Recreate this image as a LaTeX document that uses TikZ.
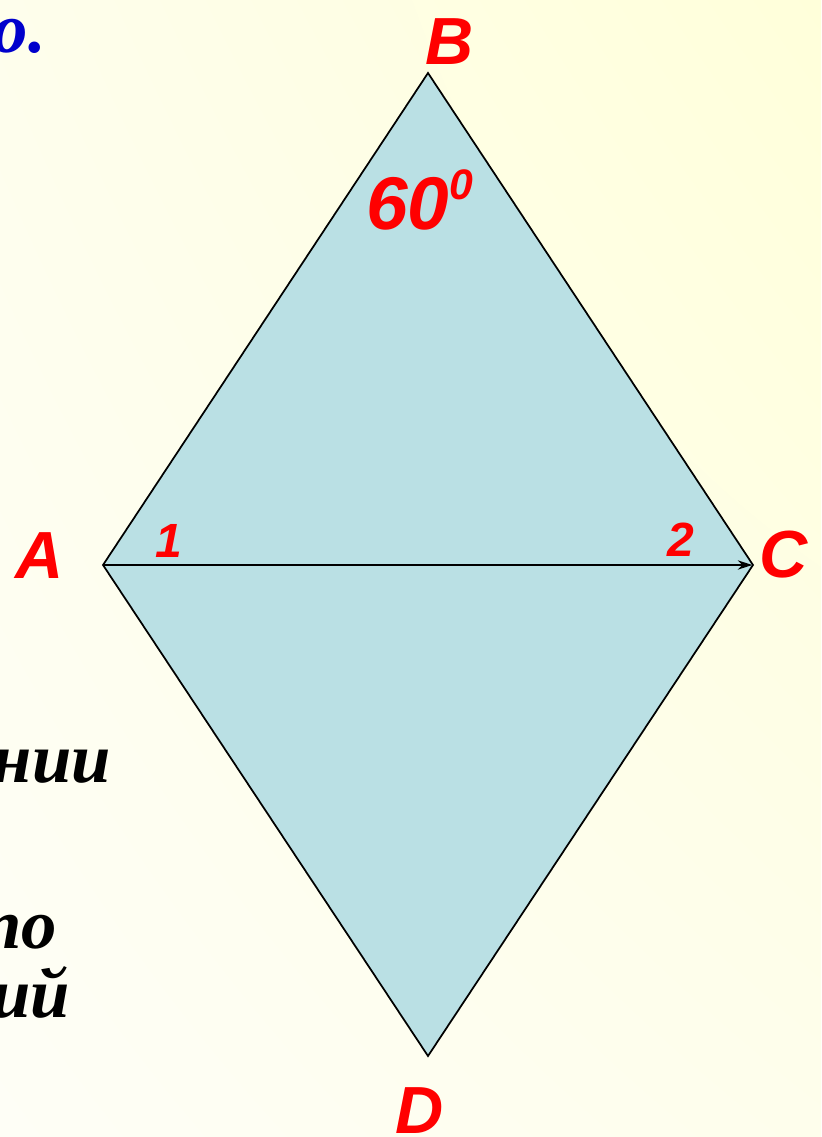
\documentclass[tikz,border=0pt]{standalone}
\usepackage{fontspec}
\setmainfont{Liberation Sans}
\newfontfamily\lbl{Liberation Sans}
\newfontfamily\cyr{Liberation Serif}
\usetikzlibrary{arrows.meta,shadings}
\definecolor{fillblue}{RGB}{186,224,228}
\definecolor{lblred}{RGB}{255,0,0}
\definecolor{txtblue}{RGB}{0,0,204}
\definecolor{bgA}{RGB}{255,255,218}
\definecolor{bgB}{RGB}{254,254,236}
\definecolor{bgC}{RGB}{254,254,246}
\tikzset{
  vlabel/.style={inner sep=0pt, anchor=base west, text=lblred, font=\lbl\bfseries\itshape\fontsize{50}{50}\selectfont},
  nlabel/.style={inner sep=0pt, anchor=base west, text=lblred, font=\lbl\bfseries\itshape\fontsize{36}{36}\selectfont},
  sidetext/.style={inner sep=0pt, anchor=base east, font=\cyr\bfseries\itshape\fontsize{53}{53}\selectfont},
  edge/.style={draw=black, line width=1.3pt}
}
\begin{document}
\begin{tikzpicture}[x=0.75pt,y=-0.75pt]
\useasboundingbox (0,0) rectangle (821,1137);
\shade[upper right=bgA, upper left=bgB, lower left=bgC, lower right=bgB] (0,0) rectangle (821,1137);
\coordinate (B) at (428,73);
\coordinate (A) at (103,565);
\coordinate (C) at (753,565);
\coordinate (D) at (428,1056);
\fill[fillblue] (A) -- (B) -- (C) -- (D) -- cycle;
\draw[edge, line join=miter] (A) -- (B) -- (C) -- (D) -- cycle;
\draw[edge, -{Stealth[length=11pt,width=7pt]}, shorten >=0.5pt] (A) -- (C);
\node[vlabel] (lB) at (425,65) {B};
\node[vlabel] (lA) at (15,578) {A};
\node[vlabel] (lC) at (759,577) {C};
\node[vlabel] (lD) at (395,1133) {D};
\node[vlabel, font=\lbl\bfseries\itshape\fontsize{56}{56}\selectfont] (l60) at (366,230) {60};
\node[vlabel, font=\lbl\bfseries\itshape\fontsize{32}{32}\selectfont] (lsup) at (449,200) {0};
\node[nlabel] (l1) at (155,557) {1};
\node[nlabel] (l2) at (667,556) {2};
\node[sidetext, text=txtblue] (t0) at (46,53) {о.};
\node[sidetext] (t1) at (111,782) {нии};
\node[sidetext] (t2) at (57,948) {по};
\node[sidetext] (t3) at (70,1017) {ий};
\end{tikzpicture}
\end{document}
